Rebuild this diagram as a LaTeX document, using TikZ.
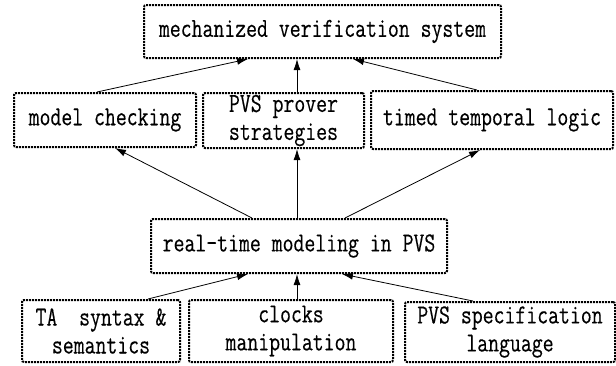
\documentclass[tikz,border=0pt]{standalone}
\usepackage{fontspec}
\setmonofont[FakeStretch=0.77, FakeBold=0.3]{Latin Modern Mono}
\usetikzlibrary{arrows.meta}

\begin{document}
\begin{tikzpicture}[
  x = 1pt, y = -1pt,
  > = {Latex[length=11pt, width=7pt]},
  layer box/.style = {draw, dash pattern=on 2pt off 1pt, line width=2pt, rounded corners=2pt,
    align=center, inner sep=0pt, font=\ttfamily\fontsize{27.5}{28}\selectfont},
  link/.style = {->, line width=0.8pt}
]
  \useasboundingbox (0,0) rectangle (616,365);

  \node[layer box, minimum width=357pt, minimum height=53pt] (sys) at (322.5,31.5) {mechanized verification system};

  \node[layer box, minimum width=182pt, minimum height=54pt] (mc) at (105,120) {model checking};
  \node[layer box, minimum width=161pt, minimum height=55pt] (prover) at (283.5,120.5) {PVS prover\\strategies};
  \node[layer box, minimum width=242pt, minimum height=58pt] (ttl) at (492,120) {timed temporal logic};

  \node[layer box, minimum width=296pt, minimum height=54pt] (rt) at (299,246) {real-time modeling in PVS};

  \node[layer box, minimum width=158pt, minimum height=62pt] (ta) at (101,331) {TA\ \ syntax \&\\semantics};
  \node[layer box, minimum width=204pt, minimum height=62pt] (clk) at (291,331) {clocks\\manipulation};
  \node[layer box, minimum width=210pt, minimum height=60pt] (spec) at (510,332) {PVS specification\\language};

  \draw[link] ([xshift=-8pt]mc.north) -- ([xshift=-74.5pt]sys.south);
  \draw[link] ([xshift=13.5pt]prover.north) -- ([xshift=-25.5pt]sys.south);
  \draw[link] ([xshift=-15pt]ttl.north) -- ([xshift=30.5pt]sys.south);

  \draw[link] ([xshift=-47pt]rt.north) -- ([xshift=10pt]mc.south);
  \draw[link] ([xshift=-2pt]rt.north) -- ([xshift=13.5pt]prover.south);
  \draw[link] ([xshift=46pt]rt.north) -- ([xshift=-12pt]ttl.south);

  \draw[link] ([xshift=47pt]ta.north) -- ([xshift=-51pt]rt.south);
  \draw[link] ([xshift=6pt]clk.north) -- ([xshift=-2pt]rt.south);
  \draw[link] ([xshift=-37pt]spec.north) -- ([xshift=43pt]rt.south);
\end{tikzpicture}
\end{document}
